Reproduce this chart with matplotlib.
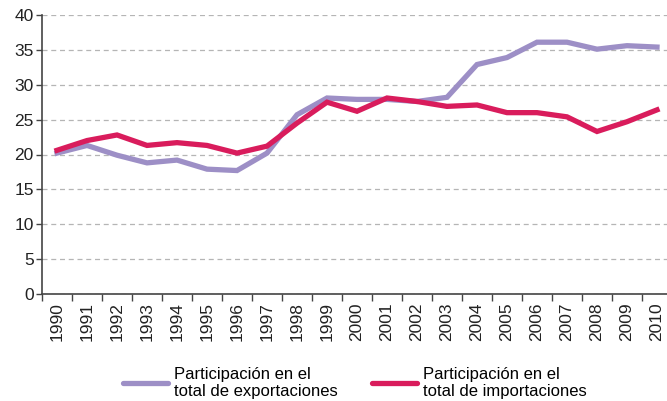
import matplotlib
matplotlib.use("Agg")
import matplotlib.pyplot as plt
from matplotlib.lines import Line2D

plt.rcParams['font.family'] = ['Liberation Sans Narrow', 'Liberation Sans', 'DejaVu Sans']

years = [str(y) for y in range(1990, 2011)]
exportaciones = [20.2, 21.3, 19.9, 18.8, 19.2, 17.9, 17.7, 20.2, 25.7, 28.1, 27.9,
                 27.9, 27.6, 28.2, 32.9, 33.9, 36.1, 36.1, 35.1, 35.6, 35.4]
importaciones = [20.6, 22.0, 22.8, 21.3, 21.7, 21.3, 20.2, 21.2, 24.5, 27.5, 26.2,
                 28.1, 27.6, 26.9, 27.1, 26.0, 26.0, 25.4, 23.3, 24.7, 26.4]
yticks = [0, 5, 10, 15, 20, 25, 30, 35, 40]
labels = ["Participación en el\ntotal de exportaciones",
          "Participación en el\ntotal de importaciones"]

c_exp = "#9d8fc6"
c_imp = "#d91c5c"

fig = plt.figure(figsize=(6.67, 4.01), dpi=100)
ax = fig.add_axes([42/667, 107/401, 630/667, 279/401])

x = list(range(len(years)))
ax.plot(x, exportaciones, color=c_exp, lw=3.8, solid_joinstyle='miter', zorder=3)
ax.plot(x, importaciones, color=c_imp, lw=3.8, solid_joinstyle='miter', zorder=4)

ax.set_xlim(-0.5, len(years) - 0.5)
ax.set_ylim(0, 40)
ax.set_yticks(yticks)
ax.set_yticklabels([str(v) for v in yticks], fontsize=12.5, color="#222222")
ax.set_xticks(x)
ax.set_xticklabels(years, rotation=90, fontsize=12.5, color="#222222")
ax.set_xticks([i - 0.5 for i in range(len(years) + 1)], minor=True)
ax.tick_params(axis='x', which='major', length=0, pad=6)
ax.tick_params(axis='x', which='minor', length=5, width=1, color="#444444", direction='out')
ax.tick_params(axis='y', length=4, width=1, color="#444444", pad=2)

ax.grid(axis='y', linestyle=(0, (4, 3)), color="#b5b5b5", lw=0.9)
ax.set_axisbelow(True)
for s in ['top', 'right']:
    ax.spines[s].set_visible(False)
for s in ['left', 'bottom']:
    ax.spines[s].set_color("#444444")
    ax.spines[s].set_linewidth(1.2)

handles = [Line2D([0], [0], color=c_exp, lw=3.8, solid_capstyle='round'),
           Line2D([0], [0], color=c_imp, lw=3.8, solid_capstyle='round')]
anchors = [108/667, 357/667]
for h, lab, ax_x in zip(handles, labels, anchors):
    fig.legend([h], [lab], loc='lower left', bbox_to_anchor=(ax_x, -0.033),
               frameon=False, fontsize=12, handlelength=2.7,
               handletextpad=0.35, labelspacing=0.2)

fig.savefig("out.png", dpi=100)
